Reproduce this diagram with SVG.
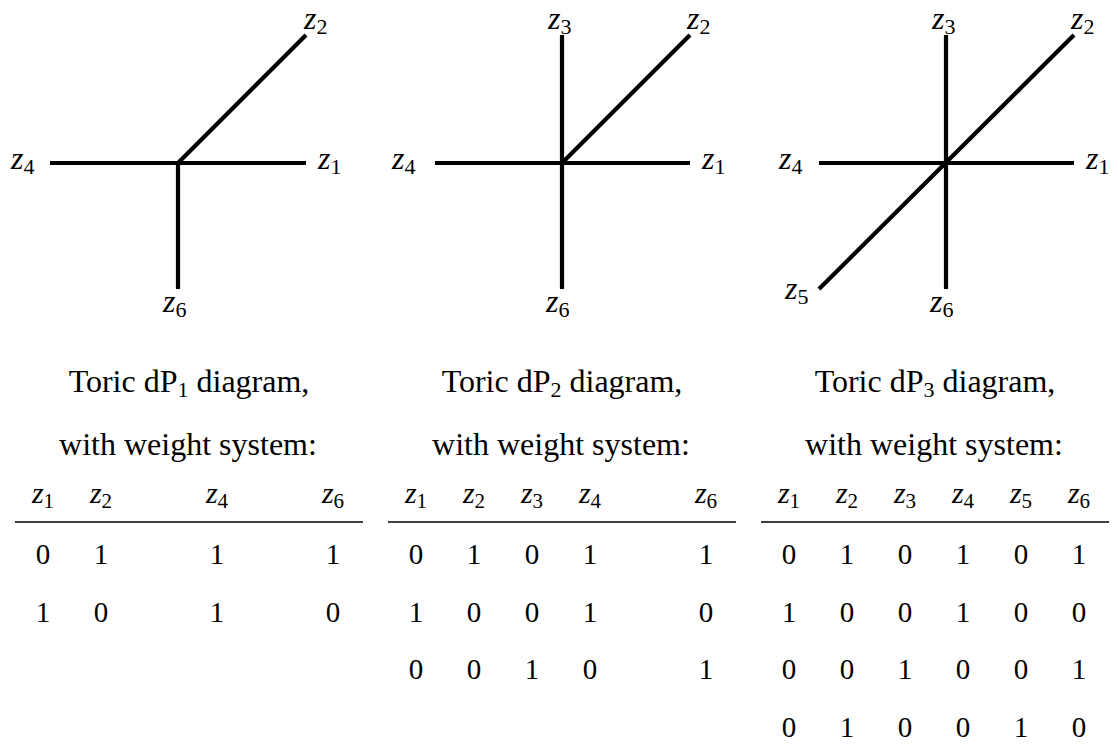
<svg xmlns="http://www.w3.org/2000/svg" width="1118" height="744" viewBox="0 0 1118 744" font-family="'Liberation Serif', 'DejaVu Serif', serif">
<style>
text{font-family:'Liberation Serif','DejaVu Serif',serif;fill:#000}
.lbl{font-size:32px}
.hd{font-size:30px;text-anchor:middle}
.cap{font-size:32px;text-anchor:middle}
.num{font-size:29px;text-anchor:middle}
.i{font-style:italic}
.edge{stroke:#000;stroke-width:4.2;fill:none;stroke-linecap:butt}
.rule{stroke:#000;stroke-width:1.3}
</style>
<rect width="1118" height="744" fill="#fff"/>
<g id="connectors">
  <path class="edge" d="M50 163H306M178 163V289M178 163L306 35"/>
  <path class="edge" d="M435 163H690M562 35V289M562 163L690 35"/>
  <path class="edge" d="M819 163H1074M946 35V289M1074 35L819 289"/>
</g>
<g id="dp1-labels">
  <text class="lbl" x="304" y="29"><tspan class="i">z</tspan><tspan font-size="22" dy="5">2</tspan></text>
  <text class="lbl" x="11" y="169"><tspan class="i">z</tspan><tspan font-size="22" dy="5">4</tspan></text>
  <text class="lbl" x="318" y="169"><tspan class="i">z</tspan><tspan font-size="22" dy="5">1</tspan></text>
  <text class="lbl" x="163" y="312"><tspan class="i">z</tspan><tspan font-size="22" dy="5">6</tspan></text>
</g>
<g id="dp2-labels">
  <text class="lbl" x="548" y="29"><tspan class="i">z</tspan><tspan font-size="22" dy="5">3</tspan></text>
  <text class="lbl" x="687" y="29"><tspan class="i">z</tspan><tspan font-size="22" dy="5">2</tspan></text>
  <text class="lbl" x="392" y="169"><tspan class="i">z</tspan><tspan font-size="22" dy="5">4</tspan></text>
  <text class="lbl" x="702" y="169"><tspan class="i">z</tspan><tspan font-size="22" dy="5">1</tspan></text>
  <text class="lbl" x="546" y="312"><tspan class="i">z</tspan><tspan font-size="22" dy="5">6</tspan></text>
</g>
<g id="dp3-labels">
  <text class="lbl" x="932" y="29"><tspan class="i">z</tspan><tspan font-size="22" dy="5">3</tspan></text>
  <text class="lbl" x="1071" y="29"><tspan class="i">z</tspan><tspan font-size="22" dy="5">2</tspan></text>
  <text class="lbl" x="779" y="169"><tspan class="i">z</tspan><tspan font-size="22" dy="5">4</tspan></text>
  <text class="lbl" x="1086" y="169"><tspan class="i">z</tspan><tspan font-size="22" dy="5">1</tspan></text>
  <text class="lbl" x="785" y="299"><tspan class="i">z</tspan><tspan font-size="22" dy="5">5</tspan></text>
  <text class="lbl" x="930" y="312"><tspan class="i">z</tspan><tspan font-size="22" dy="5">6</tspan></text>
</g>
<g id="dp1-table">
  <text class="cap" x="189" y="392">Toric dP<tspan font-size="22" dy="5">1</tspan><tspan dy="-5"> diagram,</tspan></text>
  <text class="cap" x="188" y="455">with weight system:</text>
  <text class="hd" x="43" y="503"><tspan class="i">z</tspan><tspan font-size="21" dy="5">1</tspan></text>
  <text class="hd" x="101" y="503"><tspan class="i">z</tspan><tspan font-size="21" dy="5">2</tspan></text>
  <text class="hd" x="217" y="503"><tspan class="i">z</tspan><tspan font-size="21" dy="5">4</tspan></text>
  <text class="hd" x="333" y="503"><tspan class="i">z</tspan><tspan font-size="21" dy="5">6</tspan></text>
  <line class="rule" x1="15" y1="522" x2="363" y2="522"/>
  <text class="num" y="564"><tspan x="43">0</tspan><tspan x="101">1</tspan><tspan x="217">1</tspan><tspan x="333">1</tspan></text>
  <text class="num" y="622"><tspan x="43">1</tspan><tspan x="101">0</tspan><tspan x="217">1</tspan><tspan x="333">0</tspan></text>
</g>
<g id="dp2-table">
  <text class="cap" x="562" y="392">Toric dP<tspan font-size="22" dy="5">2</tspan><tspan dy="-5"> diagram,</tspan></text>
  <text class="cap" x="561" y="455">with weight system:</text>
  <text class="hd" x="416" y="503"><tspan class="i">z</tspan><tspan font-size="21" dy="5">1</tspan></text>
  <text class="hd" x="474" y="503"><tspan class="i">z</tspan><tspan font-size="21" dy="5">2</tspan></text>
  <text class="hd" x="532" y="503"><tspan class="i">z</tspan><tspan font-size="21" dy="5">3</tspan></text>
  <text class="hd" x="590" y="503"><tspan class="i">z</tspan><tspan font-size="21" dy="5">4</tspan></text>
  <text class="hd" x="706" y="503"><tspan class="i">z</tspan><tspan font-size="21" dy="5">6</tspan></text>
  <line class="rule" x1="388" y1="522" x2="736" y2="522"/>
  <text class="num" y="564"><tspan x="416">0</tspan><tspan x="474">1</tspan><tspan x="532">0</tspan><tspan x="590">1</tspan><tspan x="706">1</tspan></text>
  <text class="num" y="622"><tspan x="416">1</tspan><tspan x="474">0</tspan><tspan x="532">0</tspan><tspan x="590">1</tspan><tspan x="706">0</tspan></text>
  <text class="num" y="679"><tspan x="416">0</tspan><tspan x="474">0</tspan><tspan x="532">1</tspan><tspan x="590">0</tspan><tspan x="706">1</tspan></text>
</g>
<g id="dp3-table">
  <text class="cap" x="935" y="392">Toric dP<tspan font-size="22" dy="5">3</tspan><tspan dy="-5"> diagram,</tspan></text>
  <text class="cap" x="934" y="455">with weight system:</text>
  <text class="hd" x="789" y="503"><tspan class="i">z</tspan><tspan font-size="21" dy="5">1</tspan></text>
  <text class="hd" x="847" y="503"><tspan class="i">z</tspan><tspan font-size="21" dy="5">2</tspan></text>
  <text class="hd" x="905" y="503"><tspan class="i">z</tspan><tspan font-size="21" dy="5">3</tspan></text>
  <text class="hd" x="963" y="503"><tspan class="i">z</tspan><tspan font-size="21" dy="5">4</tspan></text>
  <text class="hd" x="1021" y="503"><tspan class="i">z</tspan><tspan font-size="21" dy="5">5</tspan></text>
  <text class="hd" x="1079" y="503"><tspan class="i">z</tspan><tspan font-size="21" dy="5">6</tspan></text>
  <line class="rule" x1="761" y1="522" x2="1109" y2="522"/>
  <text class="num" y="564"><tspan x="789">0</tspan><tspan x="847">1</tspan><tspan x="905">0</tspan><tspan x="963">1</tspan><tspan x="1021">0</tspan><tspan x="1079">1</tspan></text>
  <text class="num" y="622"><tspan x="789">1</tspan><tspan x="847">0</tspan><tspan x="905">0</tspan><tspan x="963">1</tspan><tspan x="1021">0</tspan><tspan x="1079">0</tspan></text>
  <text class="num" y="679"><tspan x="789">0</tspan><tspan x="847">0</tspan><tspan x="905">1</tspan><tspan x="963">0</tspan><tspan x="1021">0</tspan><tspan x="1079">1</tspan></text>
  <text class="num" y="737"><tspan x="789">0</tspan><tspan x="847">1</tspan><tspan x="905">0</tspan><tspan x="963">0</tspan><tspan x="1021">1</tspan><tspan x="1079">0</tspan></text>
</g>
</svg>
